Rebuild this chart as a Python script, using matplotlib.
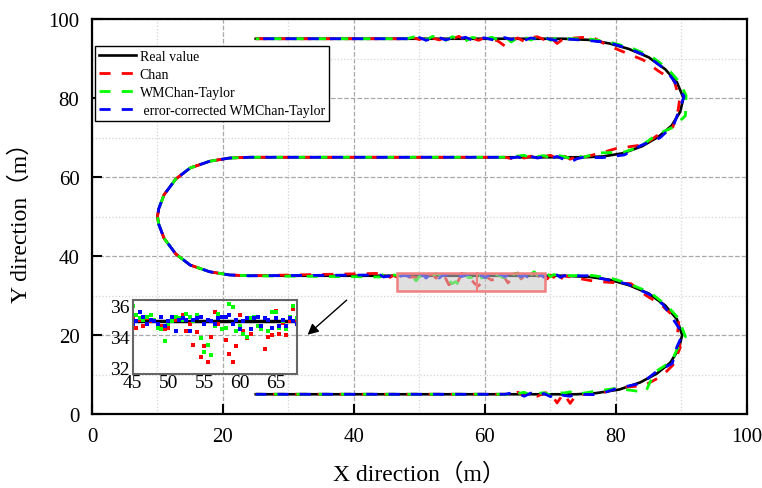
import numpy as np
import matplotlib.pyplot as plt
from matplotlib.patches import Rectangle
from matplotlib.lines import Line2D

plt.rcParams['font.family'] = ['Liberation Serif', 'Noto Sans CJK SC']

# ---- reference trajectory ----
# upper right turn (y 95 -> 65)
arc_up_x = [72, 76, 79, 82, 85, 87.5, 89.3, 90.3, 89.8, 88.5, 86.5, 84, 81, 78, 75]
arc_up_y = [95, 94.7, 93.8, 92.4, 90.3, 87.3, 84, 80, 76.5, 73, 70.2, 67.8, 66, 65.2, 65]
# left turn (y 65 -> 35)
arc_left_x = [24, 21, 18, 15, 12.8, 11, 10.2, 10, 10.2, 11, 12.8, 15, 18, 21, 24]
arc_left_y = [65, 64.8, 64, 62.3, 59.5, 55.5, 52, 50, 48, 44.5, 40.5, 37.7, 36, 35.2, 35]
# lower right turn (y 35 -> 5)
arc_low_x = [72, 76, 79, 82, 85, 87.5, 89.3, 90.1, 89.6, 88.3, 86.2, 83.7, 80.5, 77, 74]
arc_low_y = [35, 34.7, 34, 32.6, 30.5, 27.5, 24, 20, 16.5, 13, 10.2, 8, 6.2, 5.3, 5]

# sampling positions on the straight legs where the estimates scatter
top_x = list(range(48, 73))                      # y = 95
mid_x = list(range(74, 62, -1))                  # y = 65
row_x = [44 + 0.5 * i for i in range(57)]        # y = 35
bot_x = list(range(73, 62, -1))                  # y = 5

# ---- Chan ----
chan_top = [0, 0.3, -0.2, 0.5, 0.2, -0.3, 0.4, 0, 0.6, -0.3, 0.2, -0.4, 0.3,
            0, -0.6, -1.8, -0.5, 0.2, -0.7, 0.3, 0.5, -0.2, 0.4, -1.2, 0]
chan_up_dx = [0, 0.3, -0.5, -0.6, -0.8, -1.0, -0.4, -0.6, -0.3, 0.2, -0.3, 0.4, -1.0, -0.5, 0]
chan_up_dy = [0, 0.8, -0.3, -0.9, -0.7, -0.5, 0.3, -0.5, 0.6, -0.3, 0.2, 0.4, 1.2, 0.8, 0]
chan_mid = [0.3, -0.5, 0.4, -0.3, 0.5, 0.2, -0.4, 0.3, -0.2, 0.3, -0.3, 0]
chan_row = [0.6, 0.2, 0.2, -0.4, 0.1, -0.3, 0.2, 0.0, 0.1, -0.4,
            -0.3, -0.5, -0.4, 0.3, 0.1, 0.2, 0.4, -0.6, -0.2, -1.5,
            -0.7, -2.3, -1.6, -2.6, -1.0, 0.6, -0.2, -0.5, -1.2, -2.1,
            -2.6, -1.6, 0.4, -0.6, -1.1, -0.8, 0.2, -0.3, -0.5, -1.8,
            -1.0, -0.9, 0.7, -0.8, -0.1, -0.9, 0.0, 0.8, 0.1, -0.6,
            0.3, -0.8, 0.2, -0.4, 0.5, -1.0, 0.0]
chan_low_dx = [0, 0.4, -0.6, 0.3, -0.4, -0.7, 0.3, -0.7, 0.2, 0.4, 0.8, 0.6, -0.3, 0.2, 0]
chan_low_dy = [0, -1.0, -0.6, 0.4, -0.5, 0.3, -0.5, 0.5, 0.3, -0.6, -0.6, -0.8, 0.4, -0.4, 0]
chan_bot = [-2.3, 0.2, -2.2, 0.4, 0.3, -0.5, 0.4, -0.3, 0.5, -0.2, 0]

# ---- WMChan-Taylor ----
wm_top = [0, 0.4, 0.8, -0.3, 0.6, 0.2, -0.4, 0.5, 0.1, -0.6, 0.3, 0.2, -0.2,
          0.4, -0.3, 0.6, -0.8, 0.2, 0.5, -0.3, 0.4, 0.7, -0.4, 0.2, 0]
wm_up_dx = [0, -0.2, 0.3, 0.2, 0.4, 0.3, 0.5, 0.4, 0.8, 0.2, -0.3, -0.4, 0.2, -0.6, 0]
wm_up_dy = [0, 0.3, 0.2, 0.4, 0.2, 0.3, -0.2, 0.6, -1.0, -0.4, 0.5, -0.2, 0.3, 0.9, 0]
wm_mid = [0.5, -0.3, 0.2, 0.5, -0.2, 0.4, 0.2, -0.3, 0.5, 0.3, 0.2, 0]
wm_row = [-0.3, 0.4, 1.0, 0.4, 0.2, 0.1, 0.3, 0.4, 0.1, -0.4,
          -0.5, -1.3, -0.2, 0.0, 0.3, 0.2, 0.1, 0.5, 0.3, 0.0,
          0.4, -1.1, -2.0, -1.5, -2.2, -0.3, 0.5, -0.5, -0.4, 1.1,
          0.9, -0.6, -0.3, -0.8, -1.0, 0.2, 0.3, -0.3, -0.5, 0.2,
          -0.6, 0.6, 0.6, -0.4, 0.0, -0.5, 0.3, 1.0, 0.2, 0.4,
          -0.3, 0.5, -0.2, 0.3, 0.1, -0.3, 0.0]
wm_low_dx = [0, 0.3, 0.4, -0.2, 0.3, 0.4, 0.2, 0.5, -0.3, 0.2, -0.3, 0.8, -0.4, 0.3, 0]
wm_low_dy = [0, 0.4, 0.3, 0.5, 0.2, -0.3, 0.3, -0.4, -0.2, 0.3, 0.4, -2.5, 0.3, 0.6, 0]
wm_bot = [0.6, 0.3, 0.5, -0.2, 0.4, 0.2, -0.3, 0.5, 0.2, -0.2, 0]

# ---- error-corrected WMChan-Taylor ----
ec_top = [0, -0.2, 0.3, -0.4, 0.1, 0.3, -0.3, 0.2, -0.1, 0.4, -0.3, 0.1, 0.2,
          -0.2, -0.5, 0.3, -0.2, 0.1, -0.4, 0.2, -0.1, 0.3, -0.2, -0.4, 0]
ec_up_dx = [0, 0.1, -0.2, 0.3, -0.1, 0.2, -0.4, 0.1, -0.3, 0.3, 0.2, -0.2, 0.3, -0.1, 0]
ec_up_dy = [0, -0.2, 0.3, -0.1, 0.2, -0.3, 0.2, 0.4, -0.2, 0.1, -0.3, 0.2, -0.4, -0.3, 0]
ec_mid = [-0.4, -1.3, -0.5, 0.2, -0.3, 0.1, -0.2, 0.2, -0.4, 0.1, -0.2, 0]
ec_row = [0.2, -0.3, -0.2, 0.0, 0.6, 0.3, -0.2, 0.1, 0.0, -0.2,
          0.3, -0.3, 0.0, 0.3, -0.6, 0.1, 0.2, 0.1, -0.6, 0.1,
          0.2, 0.3, -0.2, 0.1, 0.0, -0.2, 0.2, 0.3, 0.3, 0.4,
          -0.2, 0.1, -0.5, 0.0, 0.2, -0.5, 0.2, 0.3, -0.3, 0.2,
          0.1, -0.4, 0.2, -0.3, 0.1, -0.3, 0.2, 0.0, -0.2, 0.3,
          -0.4, 0.2, 0.5, -0.3, 0.2, -0.4, 0.0]
ec_low_dx = [0, -0.3, 0.2, -0.2, 0.2, -0.3, -0.5, 0.1, -0.3, 0.3, -0.2, 0.2, -0.3, 0.2, 0]
ec_low_dy = [0, 0.3, -0.2, 0.3, -0.3, 0.2, -0.2, 0.3, 0.5, -0.2, 0.3, -0.2, 0.3, -0.4, 0]
ec_bot = [-0.5, -0.3, 0.4, -0.6, 0.2, -0.4, 0.3, -0.5, 0.2, 0.3, 0]


def build_path(top, up_dx, up_dy, mid, row, low_dx, low_dy, bot):
    xs = [25] + top_x
    ys = [95] + [95 + d for d in top]
    xs += [a + d for a, d in zip(arc_up_x, up_dx)]
    ys += [a + d for a, d in zip(arc_up_y, up_dy)]
    xs += mid_x
    ys += [65 + d for d in mid]
    xs += arc_left_x
    ys += arc_left_y
    xs += row_x
    ys += [35 + d for d in row]
    xs += [a + d for a, d in zip(arc_low_x, low_dx)]
    ys += [a + d for a, d in zip(arc_low_y, low_dy)]
    xs += bot_x + [25]
    ys += [5 + d for d in bot] + [5]
    return np.array(xs), np.array(ys)


zeros = lambda n: [0] * n
real_x, real_y = build_path(zeros(len(top_x)), zeros(15), zeros(15), zeros(len(mid_x)),
                            zeros(len(row_x)), zeros(15), zeros(15), zeros(len(bot_x)))
chan_x, chan_y = build_path(chan_top, chan_up_dx, chan_up_dy, chan_mid, chan_row,
                            chan_low_dx, chan_low_dy, chan_bot)
wm_x, wm_y = build_path(wm_top, wm_up_dx, wm_up_dy, wm_mid, wm_row,
                        wm_low_dx, wm_low_dy, wm_bot)
ec_x, ec_y = build_path(ec_top, ec_up_dx, ec_up_dy, ec_mid, ec_row,
                        ec_low_dx, ec_low_dy, ec_bot)

colors = ['#ff0000', '#00ff00', '#0000ff']
names = ['Chan', 'WMChan-Taylor', ' error-corrected WMChan-Taylor']

fig = plt.figure(figsize=(7.62, 4.89), dpi=100)
ax = fig.add_axes([0.1207, 0.1513, 0.8596, 0.8078])

ax.plot(real_x, real_y, color='black', lw=1.9, zorder=3)
ax.plot(chan_x, chan_y, color=colors[0], lw=2, ls=(0, (4, 4)), zorder=4)
ax.plot(wm_x, wm_y, color=colors[1], lw=2, ls=(2.7, (4, 4)), zorder=5)
ax.plot(ec_x, ec_y, color=colors[2], lw=2, ls=(5.3, (4, 4)), zorder=6)

ax.set_xlim(0, 100)
ax.set_ylim(0, 100)
ax.set_xticks(np.arange(0, 101, 20))
ax.set_yticks(np.arange(0, 101, 20))
ax.set_xticks(np.arange(10, 100, 20), minor=True)
ax.set_yticks(np.arange(10, 100, 20), minor=True)
ax.grid(which='major', ls='--', color='#a8a8a8', lw=0.9)
ax.grid(which='minor', ls=':', color='#d4d4d4', lw=0.9)
ax.tick_params(which='major', direction='in', length=7, width=1.5, labelsize=15, pad=9)
ax.tick_params(which='minor', length=0)
for s in ax.spines.values():
    s.set_linewidth(1.6)

ax.set_xlabel('X direction（m）', fontsize=17, labelpad=12)
ax.set_ylabel('Y direction（m）', fontsize=17, labelpad=12)

# legend entries all shown with the same dash phase
handles = [Line2D([], [], color='black', lw=1.9)]
handles += [Line2D([], [], color=c, lw=2, ls=(0, (4, 4))) for c in colors]
leg = ax.legend(handles, ['Real value'] + names, loc='upper left',
                bbox_to_anchor=(0.005, 0.932), borderaxespad=0,
                fontsize=10, handlelength=2.6, handletextpad=0.3, labelspacing=0.35,
                borderpad=0.3, fancybox=False, framealpha=1, edgecolor='black')
leg.get_frame().set_linewidth(1.0)

# highlighted stretch of the y = 35 leg
ax.add_patch(Rectangle((46.5, 31.2), 22.6, 4.6, facecolor='#c8c8c8', alpha=0.55,
                       edgecolor='none', zorder=7))
ax.add_patch(Rectangle((46.5, 31.2), 22.6, 4.6, facecolor='none',
                       edgecolor='#f08080', lw=1.8, zorder=8))
ax.plot([58.8, 58.8], [31.2, 35.8], color='#f08080', lw=1.5, zorder=8)

ax.annotate('', xy=(32.6, 19.6), xytext=(39.2, 29.3),
            arrowprops=dict(arrowstyle='-|>', color='black', lw=1, mutation_scale=16))

# zoomed view of the estimates along the y = 35 leg
ins = fig.add_axes([0.1742, 0.2331, 0.2156, 0.152], facecolor='none')
sel = [i for i, x in enumerate(row_x) if 45 <= x <= 68]
ins.plot([45, 68], [35, 35], color='black', lw=2.5)
for c, row in zip(colors, [chan_row, wm_row, ec_row]):
    ins.plot([row_x[i] for i in sel], [35 + row[i] for i in sel], 's',
             color=c, ms=2.8, mew=0)
ins.set_xlim(45, 68)
ins.set_ylim(31.6, 36.4)
ins.set_xticks([45, 50, 55, 60, 65])
ins.set_yticks([32, 34, 36])
ins.tick_params(axis='x', length=0, labelsize=14, pad=0)
ins.tick_params(axis='y', length=0, labelsize=14, pad=2)
for s in ins.spines.values():
    s.set_color('#666666')
    s.set_linewidth(1.5)

fig.savefig('out.png', dpi=100)
